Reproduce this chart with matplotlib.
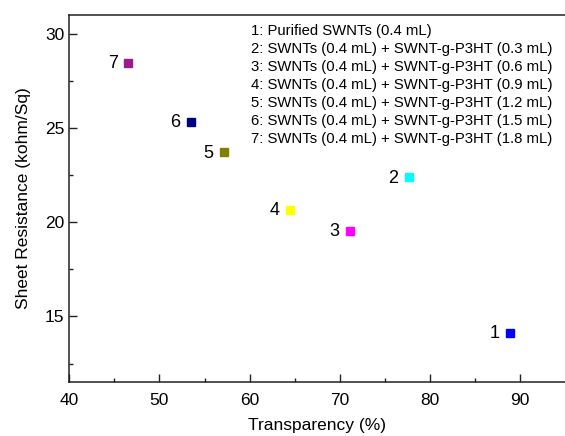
import matplotlib
matplotlib.use("Agg")
import matplotlib.pyplot as plt

plt.rcParams['font.family'] = ['Liberation Sans', 'DejaVu Sans']

# data
sample_ids = ["1", "2", "3", "4", "5", "6", "7"]
transparency = [88.9, 77.66, 71.12, 64.47, 57.15, 53.49, 46.54]
resistance = [14.13, 22.37, 19.52, 20.67, 23.7, 25.32, 28.43]
colors = ["#0000ff", "#00ffff", "#ff00ff", "#ffff00", "#808000", "#000080", "#9c1a8c"]
x_ticks = [40, 50, 60, 70, 80, 90]
x_minor = [45, 55, 65, 75, 85]
y_ticks = [15, 20, 25, 30]
y_minor = [12.5, 17.5, 22.5, 27.5]
legend_lines = [
    "1: Purified SWNTs (0.4 mL)",
    "2: SWNTs (0.4 mL) + SWNT-g-P3HT (0.3 mL)",
    "3: SWNTs (0.4 mL) + SWNT-g-P3HT (0.6 mL)",
    "4: SWNTs (0.4 mL) + SWNT-g-P3HT (0.9 mL)",
    "5: SWNTs (0.4 mL) + SWNT-g-P3HT (1.2 mL)",
    "6: SWNTs (0.4 mL) + SWNT-g-P3HT (1.5 mL)",
    "7: SWNTs (0.4 mL) + SWNT-g-P3HT (1.8 mL)",
]

fig = plt.figure(figsize=(5.65, 4.36), dpi=100)
ax = fig.add_axes([0.1227, 0.123, 0.8773, 0.843])

for sid, x, y, c in zip(sample_ids, transparency, resistance, colors):
    ax.plot(x, y, marker="s", ms=6, color=c, mec=c, ls="none")
    ax.annotate(sid, (x, y), xytext=(-7.5, -0.5), textcoords="offset points",
                ha="right", va="center", fontsize=13)

ax.set_xlim(40, 95)
ax.set_ylim(11.5, 31)
ax.set_xticks(x_ticks)
ax.set_xticks(x_minor, minor=True)
ax.set_yticks(y_ticks)
ax.set_yticks(y_minor, minor=True)
ax.tick_params(which="both", direction="in", labelsize=12.5, width=1, color="#222222")
ax.tick_params(which="major", length=5.5)
ax.tick_params(which="minor", length=3)
ax.tick_params(axis="x", pad=8)
ax.spines["right"].set_visible(False)
for s in ("left", "bottom", "top"):
    ax.spines[s].set_linewidth(1.1)
    ax.spines[s].set_color("#222222")

ax.set_xlabel("Transparency (%)", fontsize=12.5, labelpad=7)
ax.set_ylabel("Sheet Resistance (kohm/Sq)", fontsize=12.5, labelpad=10)

ax.text(0.444, 0.945, "\n".join(legend_lines), transform=fig.transFigure,
        ha="left", va="top", fontsize=10.7, linespacing=1.37)

fig.savefig("out.png", dpi=100)
